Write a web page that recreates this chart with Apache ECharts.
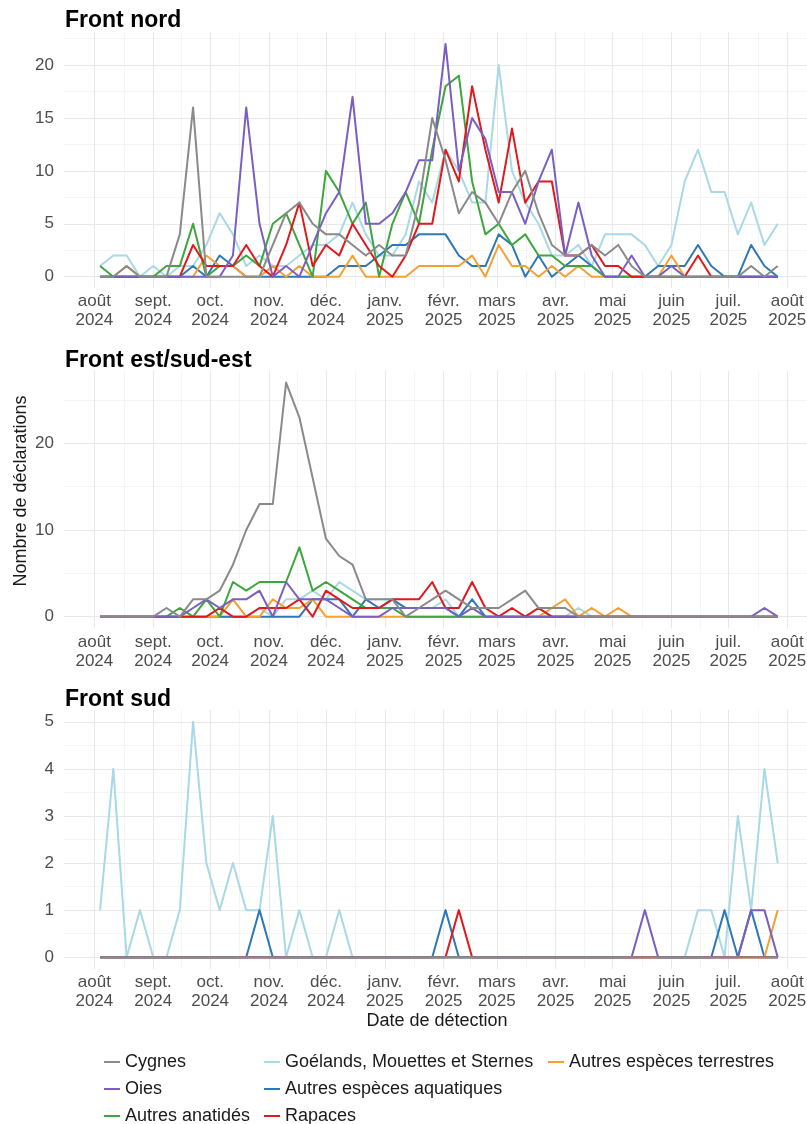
<!DOCTYPE html>
<html><head><meta charset="utf-8">
<script src="https://cdn.jsdelivr.net/npm/echarts@6/dist/echarts.min.js"></script>
<style>html,body{margin:0;padding:0;background:#fff}#c{width:807px;height:1124px}</style>
</head><body><div id="c"></div>
<script>
// ---------------- DATA ----------------
const weeks = ['2024-08-04','2024-08-11','2024-08-18','2024-08-25','2024-09-01','2024-09-08','2024-09-15','2024-09-22','2024-09-29','2024-10-06',
'2024-10-13','2024-10-20','2024-10-27','2024-11-03','2024-11-10','2024-11-17','2024-11-24','2024-12-01','2024-12-08','2024-12-15',
'2024-12-22','2024-12-29','2025-01-05','2025-01-12','2025-01-19','2025-01-26','2025-02-02','2025-02-09','2025-02-16','2025-02-23',
'2025-03-02','2025-03-09','2025-03-16','2025-03-23','2025-03-30','2025-04-06','2025-04-13','2025-04-20','2025-04-27','2025-05-04',
'2025-05-11','2025-05-18','2025-05-25','2025-06-01','2025-06-08','2025-06-15','2025-06-22','2025-06-29','2025-07-06','2025-07-13',
'2025-07-20','2025-07-27'];
const tickDates = ['2024-08-01','2024-09-01','2024-10-01','2024-11-01','2024-12-01','2025-01-01','2025-02-01','2025-03-01','2025-04-01','2025-05-01','2025-06-01','2025-07-01','2025-08-01'];
const tickLabels = ['août\n2024','sept.\n2024','oct.\n2024','nov.\n2024','déc.\n2024','janv.\n2025','févr.\n2025','mars\n2025','avr.\n2025','mai\n2025','juin\n2025','juil.\n2025','août\n2025'];
const panelTitles = ['Front nord','Front est/sud-est','Front sud'];
const speciesNames = ['Cygnes','Oies','Autres anatidés','Goélands, Mouettes et Sternes','Autres espèces aquatiques','Rapaces','Autres espèces terrestres'];
const yTicksNord = [0,5,10,15,20];
const yTicksEst = [0,10,20];
const yTicksSud = [0,1,2,3,4,5];

// Front nord
const nordCygnes     = [0,0,1,0,0,0,4,16,0,0, 0,0,0,3,6,7,5,4,4,3, 2,3,2,2,7,15,11,6,8,7, 5,8,10,6,3,2,2,3,2,3, 1,0,0,0,0,0,0,0,0,1, 0,1];
const nordOies       = [0,0,0,0,0,0,0,0,0,0, 2,16,5,0,1,0,3,6,8,17, 5,5,6,8,11,11,22,10,15,13, 8,8,5,9,12,2,7,2,0,0, 2,0,0,1,0,0,0,0,0,0, 0,0];
const nordAnatides   = [1,0,0,0,0,1,1,5,0,1, 1,2,1,5,6,3,0,10,8,5, 7,0,5,8,5,12,18,19,9,4, 5,3,4,2,2,1,1,1,0,0, 0,0,0,0,0,0,0,0,0,0, 0,0];
const nordGoelands   = [1,2,2,0,1,0,1,1,3,6, 4,1,2,1,1,2,3,3,4,7, 4,2,2,4,9,7,12,10,7,7, 20,10,7,5,2,2,3,1,4,4, 4,3,1,3,9,12,8,8,4,7, 3,5];
const nordAquatiques = [0,0,0,0,0,0,0,1,0,2, 1,0,0,0,0,0,0,0,1,1, 1,2,3,3,4,4,4,2,1,1, 4,3,0,2,0,1,2,1,0,0, 0,0,1,1,1,3,1,0,0,3, 1,0];
const nordRapaces    = [0,0,0,0,0,0,0,3,1,1, 1,3,1,0,3,7,1,3,2,5, 3,1,0,2,5,5,12,9,18,12, 7,14,7,9,9,2,2,3,1,1, 0,0,0,0,0,2,0,0,0,0, 0,0];
const nordTerrestres = [0,0,1,0,0,0,0,0,2,1, 1,0,0,1,0,1,0,0,0,2, 0,0,0,0,1,1,1,1,2,0, 3,1,1,0,1,0,1,0,0,0, 0,0,0,2,0,0,0,0,0,0, 0,0];

// Front est/sud-est
const estCygnes     = [0,0,0,0,0,1,0,2,2,3, 6,10,13,13,27,23,16,9,7,6, 2,2,2,0,1,2,3,2,1,1, 1,2,3,1,1,1,0,0,0,0, 0,0,0,0,0,0,0,0,0,0, 0,0];
const estOies       = [0,0,0,0,0,0,0,1,2,1, 2,2,3,0,4,2,2,2,1,0, 0,0,1,1,1,1,1,0,1,0, 0,0,0,0,0,0,0,0,0,0, 0,0,0,0,0,0,0,0,0,0, 1,0];
const estAnatides   = [0,0,0,0,0,0,1,0,2,0, 4,3,4,4,4,8,3,4,3,2, 1,1,1,0,0,0,0,0,0,0, 0,0,0,0,0,0,0,0,0,0, 0,0,0,0,0,0,0,0,0,0, 0,0];
const estGoelands   = [0,0,0,0,0,0,0,0,0,0, 0,0,1,0,2,2,3,2,4,3, 2,2,2,1,1,1,2,0,1,0, 0,0,0,1,0,0,1,0,0,0, 0,0,0,0,0,0,0,0,0,0, 0,0];
const estAquatiques = [0,0,0,0,0,0,0,0,0,0, 0,0,0,0,0,0,2,2,2,0, 2,1,2,1,1,1,1,0,2,0, 0,0,0,0,0,0,0,0,0,0, 0,0,0,0,0,0,0,0,0,0, 0,0];
const estRapaces    = [0,0,0,0,0,0,0,0,0,1, 0,0,1,1,1,2,0,3,2,1, 1,1,2,2,2,4,1,1,4,1, 0,1,0,1,0,0,0,0,0,0, 0,0,0,0,0,0,0,0,0,0, 0,0];
const estTerrestres = [0,0,0,0,0,0,0,0,0,0, 2,0,0,2,1,1,2,0,0,0, 0,0,0,0,0,0,0,0,0,0, 0,0,0,0,1,2,0,1,0,1, 0,0,0,0,0,0,0,0,0,0, 0,0];

// Front sud
const sudCygnes     = [0,0,0,0,0,0,0,0,0,0, 0,0,0,0,0,0,0,0,0,0, 0,0,0,0,0,0,0,0,0,0, 0,0,0,0,0,0,0,0,0,0, 0,0,0,0,0,0,0,0,0,0, 0,0];
const sudOies       = [0,0,0,0,0,0,0,0,0,0, 0,0,0,0,0,0,0,0,0,0, 0,0,0,0,0,0,0,0,0,0, 0,0,0,0,0,0,0,0,0,0, 0,1,0,0,0,0,0,0,0,1, 1,0];
const sudAnatides   = [0,0,0,0,0,0,0,0,0,0, 0,0,0,0,0,0,0,0,0,0, 0,0,0,0,0,0,0,0,0,0, 0,0,0,0,0,0,0,0,0,0, 0,0,0,0,0,0,0,0,0,0, 0,0];
const sudGoelands   = [1,4,0,1,0,0,1,5,2,1, 2,1,1,3,0,1,0,0,1,0, 0,0,0,0,0,0,0,0,0,0, 0,0,0,0,0,0,0,0,0,0, 0,0,0,0,0,1,1,0,3,1, 4,2];
const sudAquatiques = [0,0,0,0,0,0,0,0,0,0, 0,0,1,0,0,0,0,0,0,0, 0,0,0,0,0,0,1,0,0,0, 0,0,0,0,0,0,0,0,0,0, 0,0,0,0,0,0,0,1,0,1, 0,0];
const sudRapaces    = [0,0,0,0,0,0,0,0,0,0, 0,0,0,0,0,0,0,0,0,0, 0,0,0,0,0,0,0,1,0,0, 0,0,0,0,0,0,0,0,0,0, 0,0,0,0,0,0,0,0,0,0, 0,0];
const sudTerrestres = [0,0,0,0,0,0,0,0,0,0, 0,0,0,0,0,0,0,0,0,0, 0,0,0,0,0,0,0,0,0,0, 0,0,0,0,0,0,0,0,0,0, 0,0,0,0,0,0,0,0,0,0, 0,1];

const panelValues = [
  [nordCygnes, nordOies, nordAnatides, nordGoelands, nordAquatiques, nordRapaces, nordTerrestres],
  [estCygnes, estOies, estAnatides, estGoelands, estAquatiques, estRapaces, estTerrestres],
  [sudCygnes, sudOies, sudAnatides, sudGoelands, sudAquatiques, sudRapaces, sudTerrestres]
];
const panelTicks = [yTicksNord, yTicksEst, yTicksSud];

// ---------------- STYLE / LAYOUT ----------------
const colors = ['#8A8A8A','#7A5FC0','#3DA63D','#A9D8E6','#2E78B7','#E1191C','#F5A033'];
const drawOrder = [3,4,6,2,5,1,0];
const gridLayout = [{top:32.3,height:256},{top:370.9,height:257.5},{top:710,height:259}];
const titleTops = [9,349,688];
const FONT = '"Liberation Sans", Arial, sans-serif';
const GRID_LEFT = 64, GRID_WIDTH = 746;
const DAY = 86400000;

const ts = s => { const p = s.split('-').map(Number); return Date.UTC(p[0], p[1]-1, p[2]); };
const xMin = ts('2024-07-16'), xMax = ts('2025-08-13');
const tickTs = tickDates.map(ts);
const minorX = [];
for (let i = 0; i < tickTs.length - 1; i++) minorX.push((tickTs[i] + tickTs[i+1]) / 2);

const grids = [], xAxes = [], yAxes = [], series = [], titles = [];
panelValues.forEach((vals, p) => {
  grids.push({left: GRID_LEFT, width: GRID_WIDTH, top: gridLayout[p].top, height: gridLayout[p].height, containLabel: false, outerBoundsMode: 'none'});
  const vmax = Math.max(...vals.flat());
  const yMin = -0.05 * vmax, yMax = 1.05 * vmax;
  const ticks = panelTicks[p];
  const step = ticks[1] - ticks[0];
  const minorY = [];
  ticks.forEach(t => { if (t + step/2 <= yMax) minorY.push(t + step/2); });
  xAxes.push({
    type: 'value', gridIndex: p, min: xMin, max: xMax, scale: true,
    axisLine: {show: false}, axisTick: {show: false}, splitLine: {show: false}, minorSplitLine: {show: false},
    axisLabel: {
      customValues: tickTs, margin: 4, fontSize: 17, lineHeight: 19, color: '#4D4D4D', fontFamily: FONT,
      showMinLabel: true, showMaxLabel: true, hideOverlap: false,
      formatter: v => { const i = tickTs.findIndex(t => Math.abs(t - v) < DAY / 2); return i >= 0 ? tickLabels[i] : ''; }
    },
    name: p === 2 ? 'Date de détection' : '', nameLocation: 'middle', nameGap: 41,
    nameTextStyle: {fontSize: 18, color: '#1A1A1A', fontFamily: FONT}
  });
  yAxes.push({
    type: 'value', gridIndex: p, min: yMin, max: yMax,
    axisLine: {show: false}, axisTick: {show: false}, splitLine: {show: false},
    axisLabel: {customValues: ticks, margin: 10, fontSize: 17, color: '#4D4D4D', fontFamily: FONT}
  });
  const major = {color: '#E8E8E8', width: 1.1, type: 'solid'};
  const minor = {color: '#F2F2F2', width: 0.8, type: 'solid'};
  series.push({
    type: 'line', name: '__grid' + p, xAxisIndex: p, yAxisIndex: p, data: [], silent: true, z: 1,
    markLine: {
      silent: true, symbol: 'none', animation: false, z: 1, label: {show: false}, emphasis: {disabled: true},
      data: [
        ...minorY.map(v => ({yAxis: v, lineStyle: minor})),
        ...minorX.map(v => ({xAxis: v, lineStyle: minor})),
        ...ticks.map(v => ({yAxis: v, lineStyle: major})),
        ...tickTs.map(v => ({xAxis: v, lineStyle: major}))
      ]
    }
  });
  drawOrder.forEach(s => {
    series.push({
      type: 'line', name: speciesNames[s], xAxisIndex: p, yAxisIndex: p,
      data: weeks.map((w, i) => [ts(w), vals[s][i]]),
      symbol: 'none', showSymbol: false, smooth: false, z: 3,
      color: colors[s], itemStyle: {color: colors[s]},
      lineStyle: {color: colors[s], width: 2, join: 'round'},
      emphasis: {disabled: true}
    });
  });
  titles.push({text: panelTitles[p], left: GRID_LEFT + 1, top: titleTops[p], padding: 0,
    textStyle: {fontSize: 23, fontWeight: 'bold', color: '#000', fontFamily: FONT}});
});

const legendCommon = {
  orient: 'vertical', icon: 'rect', itemWidth: 16, itemHeight: 2, itemGap: 7, padding: 0,
  height: 100, width: 320,
  selectedMode: false, textStyle: {fontSize: 18, lineHeight: 20, color: '#1A1A1A', fontFamily: FONT}
};

const chart = echarts.init(document.getElementById('c'), null, {renderer: 'canvas'});
chart.setOption({
  backgroundColor: '#fff',
  animation: false,
  title: titles,
  grid: grids,
  xAxis: xAxes,
  yAxis: yAxes,
  legend: [
    Object.assign({}, legendCommon, {data: speciesNames.slice(0, 3), left: 104, top: 1052}),
    Object.assign({}, legendCommon, {data: speciesNames.slice(3, 6), left: 264, top: 1052}),
    Object.assign({}, legendCommon, {data: speciesNames.slice(6), left: 548, top: 1052, width: 250})
  ],
  graphic: [{
    type: 'text', x: 21, y: 491, rotation: Math.PI / 2, silent: true,
    style: {text: 'Nombre de déclarations', fontSize: 18, fontFamily: FONT, fill: '#1A1A1A',
      textAlign: 'center', textVerticalAlign: 'middle', align: 'center', verticalAlign: 'middle'}
  }],
  series: series
});
</script></body></html>
